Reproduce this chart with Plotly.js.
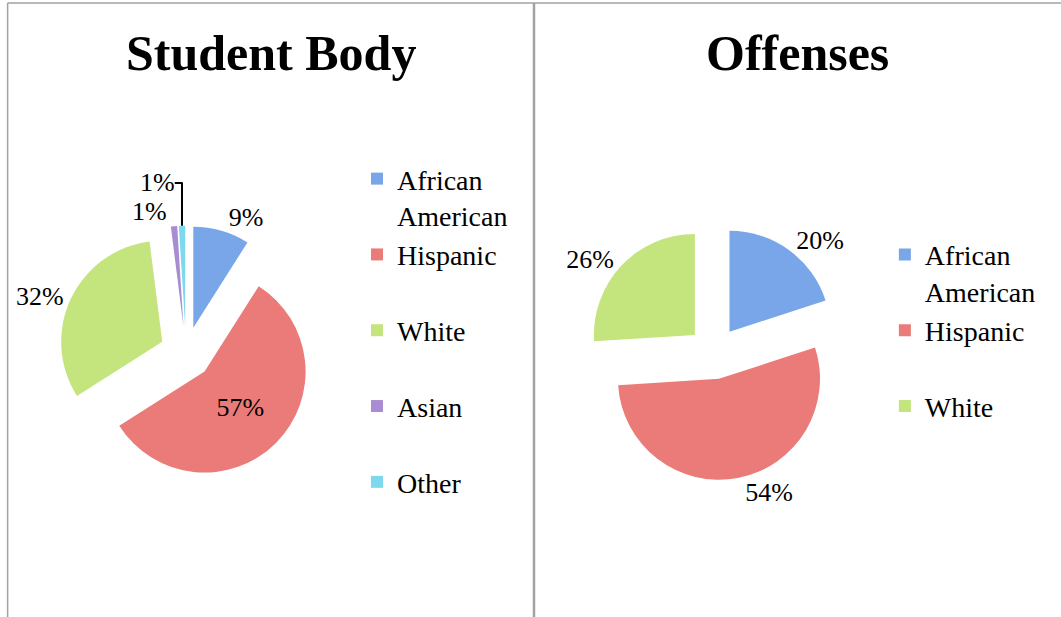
<!DOCTYPE html>
<html>
<head>
<meta charset="utf-8">
<script src="https://cdn.plot.ly/plotly-3.0.1.min.js"></script>
<style>
  html, body { margin: 0; padding: 0; background: #ffffff; }
  #chart { width: 1061px; height: 617px; }
</style>
</head>
<body>
<div id="chart"></div>
<script>
// ---- data ----
const studentLabels = ["African<br>American", "Hispanic", "White", "Asian", "Other"];
const studentValues = [9, 57, 32, 1, 1];
const studentColors = ["#78a6e8", "#ea7b78", "#c4e47e", "#a88dd2", "#7fd9ee"];
const studentTextPos = ["outside", "inside", "outside", "outside", "outside"];

const offenseLabels = ["African<br>American", "Hispanic", "White"];
const offenseValues = [20, 54, 26];
const offenseColors = ["#78a6e8", "#ea7b78", "#c4e47e"];

const panelTitles = ["Student Body", "Offenses"];

const FONT = "Liberation Serif, Times New Roman, serif";
const W = 1061, H = 617;

// Legend entries all occupy two lines (as in the reference, where every
// entry gets the same slot height); single-line labels get an empty 2nd line.
function twoLine(lbl) {
  return lbl.indexOf("<br>") >= 0 ? lbl : lbl + "<br> ";
}

const studentPie = {
  type: "pie",
  labels: studentLabels.map(twoLine),
  values: studentValues,
  sort: false,
  direction: "clockwise",
  rotation: 0,
  pull: 0.26,
  marker: { colors: studentColors, line: { width: 0 } },
  textinfo: "percent",
  texttemplate: "%{percent:.0%}",
  textposition: studentTextPos,
  insidetextorientation: "horizontal",
  textfont: { family: FONT, size: 26, color: "#000000" },
  insidetextfont: { family: FONT, size: 26, color: "#000000" },
  outsidetextfont: { family: FONT, size: 26, color: "#000000" },
  domain: { x: [0.0553, 0.2953], y: [0.2216, 0.6342] },
  legend: "legend",
  legendgroup: "student",
  hoverinfo: "percent"
};

const offensePie = {
  type: "pie",
  labels: offenseLabels.map(twoLine),
  values: offenseValues,
  sort: false,
  direction: "clockwise",
  rotation: 0,
  pull: 0.26,
  marker: { colors: offenseColors, line: { width: 0 } },
  textinfo: "percent",
  texttemplate: "%{percent:.0%}",
  textposition: "outside",
  textfont: { family: FONT, size: 26, color: "#000000" },
  outsidetextfont: { family: FONT, size: 26, color: "#000000" },
  domain: { x: [0.5530, 0.7930], y: [0.2216, 0.6342] },
  legend: "legend2",
  legendgroup: "offenses",
  hoverinfo: "percent"
};

const legendBase = {
  font: { family: FONT, size: 28, color: "#000000" },
  bgcolor: "rgba(0,0,0,0)",
  borderwidth: 0,
  valign: "top",
  traceorder: "normal",
  tracegroupgap: 0,
  xanchor: "left",
  yanchor: "top"
};

const grey = "#a2a2a6";

const layout = {
  width: W,
  height: H,
  margin: { l: 0, r: 0, t: 0, b: 0 },
  paper_bgcolor: "#ffffff",
  showlegend: true,
  legend: Object.assign({}, legendBase, { x: 0.3365, y: 0.7505 }),
  legend2: Object.assign({}, legendBase, { x: 0.8340, y: 0.6276 }),
  annotations: [
    { text: panelTitles[0], xref: "paper", yref: "paper", x: 0.2554, y: 0.914,
      xanchor: "center", yanchor: "middle", showarrow: false,
      font: { family: FONT, size: 50, color: "#000000", weight: "bold" } },
    { text: panelTitles[1], xref: "paper", yref: "paper", x: 0.752, y: 0.914,
      xanchor: "center", yanchor: "middle", showarrow: false,
      font: { family: FONT, size: 50, color: "#000000", weight: "bold" } }
  ],
  shapes: [
    { type: "line", xref: "paper", yref: "paper", x0: 0.0072, x1: 0.0072, y0: 0, y1: 0.9951,
      line: { color: grey, width: 1.5 } },
    { type: "line", xref: "paper", yref: "paper", x0: 0.0072, x1: 1, y0: 0.9951, y1: 0.9951,
      line: { color: grey, width: 1.5 } },
    { type: "line", xref: "paper", yref: "paper", x0: 0.5033, x1: 0.5033, y0: 0, y1: 0.9951,
      line: { color: grey, width: 2.5 } }
  ]
};

Plotly.newPlot("chart", [studentPie, offensePie], layout, { displayModeBar: false, staticPlot: true });
</script>
</body>
</html>
